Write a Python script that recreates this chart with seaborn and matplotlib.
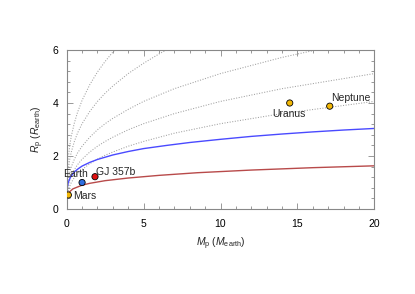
import numpy as np
import pandas as pd
import seaborn as sns
import matplotlib
matplotlib.use('Agg')
import matplotlib.pyplot as plt
from matplotlib.ticker import MultipleLocator

# planets (mass, radius in earth units)
planet_names = ['Mars', 'Earth', 'GJ 357b', 'Uranus', 'Neptune']
planet_mass = [0.107, 1.0, 1.84, 14.5, 17.1]
planet_radius = [0.53, 1.0, 1.22, 4.0, 3.88]
planet_colors = ['#f2b705', '#2f6de0', '#e01010', '#f2b705', '#f2b705']

# blue (earth-like) and red (iron-rich) model curves
blue_m = [0.01, 0.03, 0.1, 0.25, 0.5, 0.75, 1, 1.5, 2, 3, 4, 5, 6.5, 8, 10, 12, 14, 16, 18, 20]
blue_r = [0.55, 0.77, 1.00, 1.21, 1.40, 1.52, 1.62, 1.76, 1.87, 2.04, 2.17, 2.28, 2.40, 2.51,
          2.63, 2.74, 2.83, 2.91, 2.98, 3.04]
red_m = [0.0, 0.003, 0.01, 0.05, 0.15, 0.4, 1, 1.5, 2.5, 4, 6, 8.5, 12, 16, 20]
red_r = [0.0, 0.30, 0.38, 0.52, 0.63, 0.76, 0.90, 0.97, 1.07, 1.17, 1.27, 1.37, 1.47, 1.56, 1.63]

# grey dotted curves
dot_a_m = [0, 0.01, 0.05, 0.1, 0.2, 0.3, 0.5, 0.7, 1, 1.5, 2, 2.5, 3, 3.5]
dot_a_r = [0, 0.88, 1.51, 1.90, 2.40, 2.75, 3.25, 3.64, 4.10, 4.69, 5.17, 5.57, 5.92, 6.23]
dot_b_m = [0, 0.01, 0.05, 0.1, 0.2, 0.3, 0.5, 0.7, 1, 1.5, 2, 2.5, 3, 4, 5, 6, 7]
dot_b_r = [0, 0.69, 1.19, 1.49, 1.88, 2.15, 2.55, 2.86, 3.22, 3.68, 4.06, 4.37, 4.64, 5.11,
           5.50, 5.85, 6.16]
dot_c_m = [0, 0.01, 0.05, 0.1, 0.2, 0.3, 0.5, 0.7, 1, 1.5, 2, 2.5, 3, 4, 5, 7, 10, 14, 17]
dot_c_r = [0, 0.51, 0.87, 1.10, 1.39, 1.59, 1.88, 2.11, 2.37, 2.71, 2.99, 3.22, 3.42, 3.76,
           4.06, 4.54, 5.11, 5.72, 6.10]
dot_d_m = [0, 0.01, 0.05, 0.1, 0.2, 0.3, 0.5, 0.7, 1, 1.5, 2, 2.5, 3, 4, 5, 7, 10, 14, 20]
dot_d_r = [0, 0.41, 0.69, 0.87, 1.10, 1.26, 1.49, 1.67, 1.88, 2.15, 2.37, 2.55, 2.71, 2.99,
           3.22, 3.60, 4.06, 4.54, 5.11]
dot_e_m = [0, 0.01, 0.05, 0.1, 0.2, 0.3, 0.5, 0.7, 1, 1.5, 2, 2.5, 3, 4, 5, 7, 10, 14, 20]
dot_e_r = [0, 0.32, 0.55, 0.69, 0.87, 1.00, 1.19, 1.33, 1.49, 1.71, 1.88, 2.03, 2.15, 2.37,
           2.55, 2.86, 3.22, 3.60, 4.06]

sns.set_style('ticks')
plt.rcParams['font.family'] = ['Liberation Sans', 'DejaVu Sans']
plt.rcParams['mathtext.fontset'] = 'custom'
plt.rcParams['mathtext.rm'] = 'Liberation Sans'
plt.rcParams['mathtext.it'] = 'Liberation Sans:italic'

fig = plt.figure(figsize=(4.15, 2.94), dpi=100)
ax = fig.add_axes([0.1607, 0.289, 0.7413, 0.541])

dotted = [(dot_a_m, dot_a_r), (dot_b_m, dot_b_r), (dot_c_m, dot_c_r),
          (dot_d_m, dot_d_r), (dot_e_m, dot_e_r)]
for m, r in dotted:
    sns.lineplot(x=m, y=r, sort=False, estimator=None, ax=ax, color='#a0a0a0',
                 linewidth=0.75, linestyle=(0, (1, 1.5)), zorder=1)

sns.lineplot(x=red_m, y=red_r, sort=False, estimator=None, ax=ax,
             color='#b84a4a', linewidth=1.0, zorder=2)
sns.lineplot(x=blue_m, y=blue_r, sort=False, estimator=None, ax=ax,
             color='#4a4aff', linewidth=1.0, zorder=2)

pts = pd.DataFrame({'name': planet_names, 'm': planet_mass, 'r': planet_radius})
sns.scatterplot(data=pts, x='m', y='r', hue='name', palette=planet_colors,
                s=20, edgecolor='black', linewidth=0.6, legend=False, ax=ax, zorder=3)

fs = 7.5
ax.text(0.6, 1.32, 'Earth', fontsize=fs, ha='center', va='center')
ax.text(1.9, 1.41, 'GJ 357b', fontsize=fs, ha='left', va='center')
ax.text(0.42, 0.5, 'Mars', fontsize=fs, ha='left', va='center')
ax.text(14.45, 3.57, 'Uranus', fontsize=fs, ha='center', va='center')
ax.text(18.45, 4.2, 'Neptune', fontsize=fs, ha='center', va='center')

ax.set_xlim(0, 20)
ax.set_ylim(0, 6)
ax.xaxis.set_major_locator(MultipleLocator(5))
ax.xaxis.set_minor_locator(MultipleLocator(1))
ax.yaxis.set_major_locator(MultipleLocator(2))
ax.yaxis.set_minor_locator(MultipleLocator(0.4))
ax.tick_params(which='both', direction='in', top=True, right=True, colors='#888888',
               labelcolor='black', labelsize=fs, width=0.6)
ax.tick_params(which='major', length=4)
ax.tick_params(which='minor', length=2)
ax.tick_params(axis='x', pad=7)
ax.tick_params(axis='y', pad=6)
for s in ax.spines.values():
    s.set_color('#888888')
    s.set_linewidth(0.8)

ax.set_xlabel(r'$M_{\rm p}$ ($M_{\rm earth}$)', fontsize=fs, labelpad=5)
ax.set_ylabel(r'$R_{\rm p}$ ($R_{\rm earth}$)', fontsize=fs, labelpad=5)

fig.savefig('out.png', dpi=100)
